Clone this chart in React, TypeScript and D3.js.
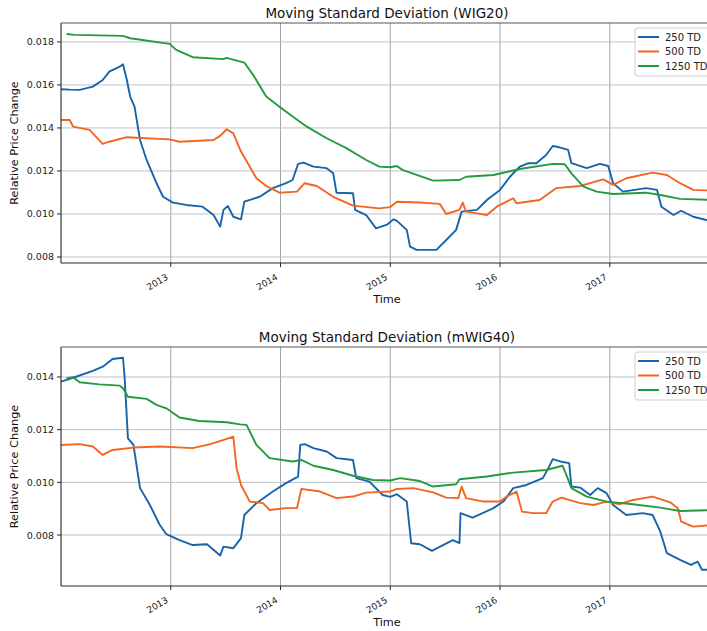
import React from "react";
import * as d3 from "d3";

// Rolling standard deviation of daily relative price changes, [decimal year, value]
const WIG20_250: [number, number][] = [
  [2012.0, 0.0158], [2012.08, 0.01578], [2012.17, 0.01577], [2012.29, 0.01592], [2012.38, 0.01623],
  [2012.44, 0.01662], [2012.535, 0.01685], [2012.565, 0.01696], [2012.6, 0.01623], [2012.63, 0.01546],
  [2012.67, 0.01499], [2012.72, 0.01344], [2012.78, 0.01251], [2012.87, 0.01143], [2012.93, 0.0108],
  [2013.02, 0.01053], [2013.14, 0.01042], [2013.29, 0.01034], [2013.39, 0.00995], [2013.45, 0.00941],
  [2013.48, 0.01019], [2013.52, 0.01037], [2013.57, 0.00987], [2013.64, 0.00975], [2013.67, 0.01057],
  [2013.81, 0.0108], [2013.93, 0.0112], [2014.05, 0.01143], [2014.11, 0.01158], [2014.16, 0.01233],
  [2014.21, 0.01239], [2014.3, 0.0122], [2014.42, 0.01213], [2014.48, 0.01189], [2014.51, 0.01099],
  [2014.66, 0.01096], [2014.68, 0.01019], [2014.78, 0.00995], [2014.87, 0.00933], [2014.97, 0.0095],
  [2015.03, 0.00975], [2015.06, 0.00968], [2015.15, 0.00926], [2015.18, 0.00848], [2015.24, 0.00833],
  [2015.42, 0.00833], [2015.51, 0.00879], [2015.6, 0.00926], [2015.65, 0.01011], [2015.79, 0.01019],
  [2015.88, 0.01065], [2016.0, 0.01112], [2016.09, 0.01173], [2016.18, 0.0122], [2016.26, 0.01236],
  [2016.33, 0.01236], [2016.42, 0.01274], [2016.48, 0.01316], [2016.54, 0.0131], [2016.62, 0.01298],
  [2016.65, 0.01236], [2016.79, 0.01213], [2016.91, 0.01233], [2016.985, 0.01223], [2017.03, 0.01143],
  [2017.12, 0.01104], [2017.33, 0.0112], [2017.43, 0.01112], [2017.47, 0.01034], [2017.58, 0.00995],
  [2017.65, 0.01015], [2017.76, 0.00987], [2017.88, 0.00972], [2017.94, 0.00965],
];

const WIG20_500: [number, number][] = [
  [2012.0, 0.01437], [2012.08, 0.01437], [2012.11, 0.01406], [2012.26, 0.01391], [2012.38, 0.01326],
  [2012.44, 0.01336], [2012.6, 0.01357], [2012.99, 0.01347], [2013.08, 0.01336], [2013.39, 0.01344],
  [2013.45, 0.01363], [2013.51, 0.01394], [2013.57, 0.01375], [2013.64, 0.0129], [2013.72, 0.0122],
  [2013.78, 0.01166], [2013.87, 0.0113], [2013.99, 0.01099], [2014.15, 0.01104], [2014.22, 0.01143],
  [2014.33, 0.0113], [2014.48, 0.0108], [2014.66, 0.01039], [2014.9, 0.01026], [2015.0, 0.01032],
  [2015.06, 0.01057], [2015.27, 0.01053], [2015.45, 0.01047], [2015.51, 0.01], [2015.63, 0.01019],
  [2015.66, 0.01053], [2015.69, 0.01011], [2015.88, 0.00995], [2015.97, 0.01034], [2016.12, 0.01073],
  [2016.15, 0.0105], [2016.36, 0.01065], [2016.51, 0.0112], [2016.73, 0.0113], [2016.94, 0.01161],
  [2017.03, 0.01135], [2017.15, 0.01166], [2017.39, 0.01192], [2017.52, 0.01181], [2017.64, 0.01143],
  [2017.76, 0.01112], [2017.94, 0.01109],
];

const WIG20_1250: [number, number][] = [
  [2012.05, 0.01837], [2012.125, 0.01833], [2012.565, 0.01828], [2012.63, 0.01817], [2012.99, 0.01791],
  [2013.05, 0.01763], [2013.2, 0.01729], [2013.48, 0.0172], [2013.51, 0.01726], [2013.67, 0.01704],
  [2013.75, 0.01647], [2013.87, 0.01546], [2013.99, 0.01499], [2014.11, 0.01453], [2014.24, 0.01406],
  [2014.42, 0.01352], [2014.6, 0.01306], [2014.78, 0.01251], [2014.9, 0.0122], [2015.0, 0.01217],
  [2015.06, 0.01223], [2015.11, 0.01205], [2015.39, 0.01155], [2015.63, 0.01158], [2015.69, 0.01173],
  [2015.94, 0.01181], [2016.18, 0.01209], [2016.48, 0.01233], [2016.59, 0.01231], [2016.65, 0.01189],
  [2016.76, 0.01127], [2016.88, 0.01104], [2017.03, 0.01093], [2017.33, 0.01099], [2017.46, 0.01088],
  [2017.64, 0.0107], [2017.94, 0.01065],
];

const MWIG40_250: [number, number][] = [
  [2012.0, 0.01382], [2012.11, 0.01397], [2012.29, 0.01423], [2012.38, 0.01439], [2012.47, 0.01468],
  [2012.565, 0.01473], [2012.58, 0.01395], [2012.61, 0.01167], [2012.66, 0.01142], [2012.72, 0.00978],
  [2012.81, 0.00914], [2012.9, 0.00838], [2012.96, 0.00803], [2013.08, 0.00781], [2013.2, 0.00762],
  [2013.33, 0.00765], [2013.45, 0.00722], [2013.48, 0.00756], [2013.57, 0.0075], [2013.64, 0.00788],
  [2013.67, 0.00876], [2013.78, 0.00921], [2013.93, 0.00965], [2014.05, 0.00997], [2014.16, 0.01022],
  [2014.18, 0.01142], [2014.22, 0.01145], [2014.3, 0.0113], [2014.42, 0.01117], [2014.51, 0.01092],
  [2014.66, 0.01085], [2014.69, 0.01016], [2014.81, 0.01003], [2014.93, 0.00952], [2015.0, 0.00945],
  [2015.06, 0.00955], [2015.15, 0.00927], [2015.19, 0.00769], [2015.27, 0.00765], [2015.38, 0.0074],
  [2015.48, 0.00762], [2015.57, 0.00781], [2015.63, 0.00769], [2015.64, 0.00883], [2015.75, 0.00866],
  [2015.94, 0.00902], [2016.03, 0.00927], [2016.12, 0.00978], [2016.24, 0.0099], [2016.39, 0.01016],
  [2016.44, 0.01054], [2016.48, 0.01088], [2016.57, 0.01077], [2016.63, 0.01073], [2016.65, 0.00984],
  [2016.73, 0.0098], [2016.82, 0.00952], [2016.89, 0.00978], [2016.97, 0.00959], [2017.03, 0.00914],
  [2017.15, 0.00876], [2017.3, 0.00883], [2017.39, 0.00876], [2017.46, 0.00813], [2017.52, 0.00731],
  [2017.64, 0.00706], [2017.74, 0.00687], [2017.8, 0.00699], [2017.84, 0.00668], [2017.94, 0.00668],
];

const MWIG40_500: [number, number][] = [
  [2012.0, 0.01142], [2012.17, 0.01145], [2012.29, 0.01136], [2012.38, 0.01104], [2012.47, 0.01123],
  [2012.66, 0.01132], [2012.9, 0.01136], [2013.2, 0.0113], [2013.36, 0.01145], [2013.51, 0.01165],
  [2013.57, 0.01173], [2013.6, 0.01053], [2013.64, 0.0099], [2013.72, 0.00927], [2013.84, 0.00921],
  [2013.9, 0.00895], [2014.05, 0.00902], [2014.15, 0.00902], [2014.19, 0.00975], [2014.36, 0.00965],
  [2014.51, 0.0094], [2014.66, 0.00946], [2014.78, 0.00961], [2015.0, 0.00965], [2015.06, 0.00975],
  [2015.21, 0.00978], [2015.39, 0.00962], [2015.51, 0.00942], [2015.62, 0.0094], [2015.65, 0.00984],
  [2015.69, 0.0094], [2015.85, 0.00927], [2016.0, 0.00927], [2016.06, 0.00946], [2016.15, 0.00965],
  [2016.2, 0.00889], [2016.3, 0.00883], [2016.42, 0.00883], [2016.48, 0.00927], [2016.56, 0.00942],
  [2016.73, 0.00921], [2016.85, 0.00914], [2016.97, 0.00927], [2017.09, 0.00917], [2017.21, 0.00933],
  [2017.39, 0.00946], [2017.55, 0.00924], [2017.62, 0.00902], [2017.65, 0.00851], [2017.76, 0.00832],
  [2017.94, 0.00838],
];

const MWIG40_1250: [number, number][] = [
  [2012.05, 0.01395], [2012.11, 0.01399], [2012.17, 0.0138], [2012.35, 0.01372], [2012.535, 0.01367],
  [2012.565, 0.01357], [2012.61, 0.01325], [2012.78, 0.01317], [2012.87, 0.01294], [2012.96, 0.01281],
  [2013.08, 0.01246], [2013.26, 0.01233], [2013.51, 0.01228], [2013.63, 0.0122], [2013.69, 0.01218],
  [2013.78, 0.01142], [2013.9, 0.01092], [2014.11, 0.01079], [2014.19, 0.01085], [2014.3, 0.01063],
  [2014.48, 0.01047], [2014.66, 0.01025], [2014.84, 0.01009], [2015.0, 0.01007], [2015.09, 0.01016],
  [2015.27, 0.01005], [2015.39, 0.00984], [2015.6, 0.00993], [2015.63, 0.01012], [2015.88, 0.01022],
  [2016.12, 0.01037], [2016.42, 0.01047], [2016.57, 0.01063], [2016.61, 0.01022], [2016.65, 0.00978],
  [2016.79, 0.00946], [2016.97, 0.00927], [2017.21, 0.00917], [2017.46, 0.00904], [2017.64, 0.00891],
  [2017.94, 0.00895],
];

const SERIES_NAMES = ["250 TD", "500 TD", "1250 TD"];
const SERIES_COLORS = ["#1864aa", "#f26522", "#239b3d"];
const YEAR_TICKS = [2013, 2014, 2015, 2016, 2017];
const X_EXTENT = [2012.0, 2017.94];
const WIG20_TICKS = [0.008, 0.01, 0.012, 0.014, 0.016, 0.018];
const MWIG40_TICKS = [0.008, 0.01, 0.012, 0.014];

const FONT = "'DejaVu Sans', sans-serif";
const LEFT = 61;
const RIGHT = 713;

type PanelProps = {
  id: string;
  title: string;
  series: [number, number][][];
  yDomain: [number, number];
  yTicks: number[];
  top: number;
  bottom: number;
};

function Panel({ id, title, series, yDomain, yTicks, top, bottom }: PanelProps) {
  const x = d3.scaleLinear().domain(X_EXTENT).range([LEFT, RIGHT]);
  const y = d3.scaleLinear().domain(yDomain).range([bottom, top]);
  const line = d3
    .line<[number, number]>()
    .x((d) => x(d[0]))
    .y((d) => y(d[1]));
  const fmt = d3.format(".3f");
  const cx = (LEFT + RIGHT) / 2;

  return (
    <g>
      <defs>
        <clipPath id={`clip-${id}`}>
          <rect x={LEFT} y={top} width={RIGHT - LEFT} height={bottom - top} />
        </clipPath>
      </defs>
      {/* grid */}
      {YEAR_TICKS.map((t) => (
        <line key={`gx${t}`} x1={x(t)} x2={x(t)} y1={top} y2={bottom} stroke="#a3a3a3" strokeWidth={1} />
      ))}
      {yTicks.map((t) => (
        <line key={`gy${t}`} x1={LEFT} x2={RIGHT} y1={y(t)} y2={y(t)} stroke="#bcc3ca" strokeWidth={1} />
      ))}
      {/* series */}
      <g clipPath={`url(#clip-${id})`}>
        {series.map((s, i) => (
          <path
            key={i}
            d={line(s) ?? undefined}
            fill="none"
            stroke={SERIES_COLORS[i]}
            strokeWidth={1.9}
            strokeLinejoin="round"
          />
        ))}
      </g>
      {/* spines */}
      <line x1={LEFT} x2={LEFT} y1={top} y2={bottom} stroke="#262626" strokeWidth={1.1} />
      <line x1={LEFT} x2={RIGHT} y1={bottom} y2={bottom} stroke="#262626" strokeWidth={1.1} />
      <line x1={LEFT} x2={RIGHT} y1={top} y2={top} stroke="#555" strokeWidth={1} />
      {/* y axis */}
      {yTicks.map((t) => (
        <g key={`yt${t}`}>
          <line x1={LEFT - 4} x2={LEFT} y1={y(t)} y2={y(t)} stroke="#262626" strokeWidth={1} />
          <text
            x={LEFT - 7}
            y={y(t)}
            textAnchor="end"
            dominantBaseline="central"
            fontFamily={FONT}
            fontSize={9.5}
            fill="#222"
          >
            {fmt(t)}
          </text>
        </g>
      ))}
      {/* x axis */}
      {YEAR_TICKS.map((t) => (
        <g key={`xt${t}`}>
          <line x1={x(t)} x2={x(t)} y1={bottom} y2={bottom + 4} stroke="#262626" strokeWidth={1} />
          <text
            transform={`translate(${x(t) - 2},${bottom + 16}) rotate(-30)`}
            textAnchor="end"
            fontFamily={FONT}
            fontSize={9}
            fill="#222"
          >
            {t}
          </text>
        </g>
      ))}
      <text x={cx} y={bottom + 40} textAnchor="middle" fontFamily={FONT} fontSize={11.3} fill="#111">
        Time
      </text>
      <text
        transform={`translate(14.5,${(top + bottom) / 2}) rotate(-90)`}
        textAnchor="middle"
        dominantBaseline="central"
        fontFamily={FONT}
        fontSize={11.3}
        fill="#111"
      >
        Relative Price Change
      </text>
      <text x={cx} y={top - 5.5} textAnchor="middle" fontFamily={FONT} fontSize={13.5} fill="#111">
        {title}
      </text>
      {/* legend */}
      <g>
        <rect
          x={635}
          y={top + 5}
          width={90}
          height={48}
          rx={3}
          fill="#fff"
          fillOpacity={0.85}
          stroke="#d0d0d0"
        />
        {SERIES_NAMES.map((name, i) => (
          <g key={name}>
            <line
              x1={638}
              x2={659}
              y1={top + 14 + i * 14.5}
              y2={top + 14 + i * 14.5}
              stroke={SERIES_COLORS[i]}
              strokeWidth={2}
            />
            <text
              x={665}
              y={top + 14 + i * 14.5}
              dominantBaseline="central"
              fontFamily={FONT}
              fontSize={10}
              fill="#222"
            >
              {name}
            </text>
          </g>
        ))}
      </g>
    </g>
  );
}

export default function App() {
  return (
    <svg
      width={707}
      height={631}
      viewBox="0 0 707 631"
      style={{ position: "absolute", left: 0, top: 0, background: "#fff" }}
    >
      <rect width={707} height={631} fill="#fff" />
      <Panel
        id="wig20"
        title="Moving Standard Deviation (WIG20)"
        series={[WIG20_250, WIG20_500, WIG20_1250]}
        yDomain={[0.00772, 0.01888]}
        yTicks={WIG20_TICKS}
        top={23}
        bottom={263}
      />
      <Panel
        id="mwig40"
        title="Moving Standard Deviation (mWIG40)"
        series={[MWIG40_250, MWIG40_500, MWIG40_1250]}
        yDomain={[0.006065, 0.015138]}
        yTicks={MWIG40_TICKS}
        top={347}
        bottom={586}
      />
    </svg>
  );
}
